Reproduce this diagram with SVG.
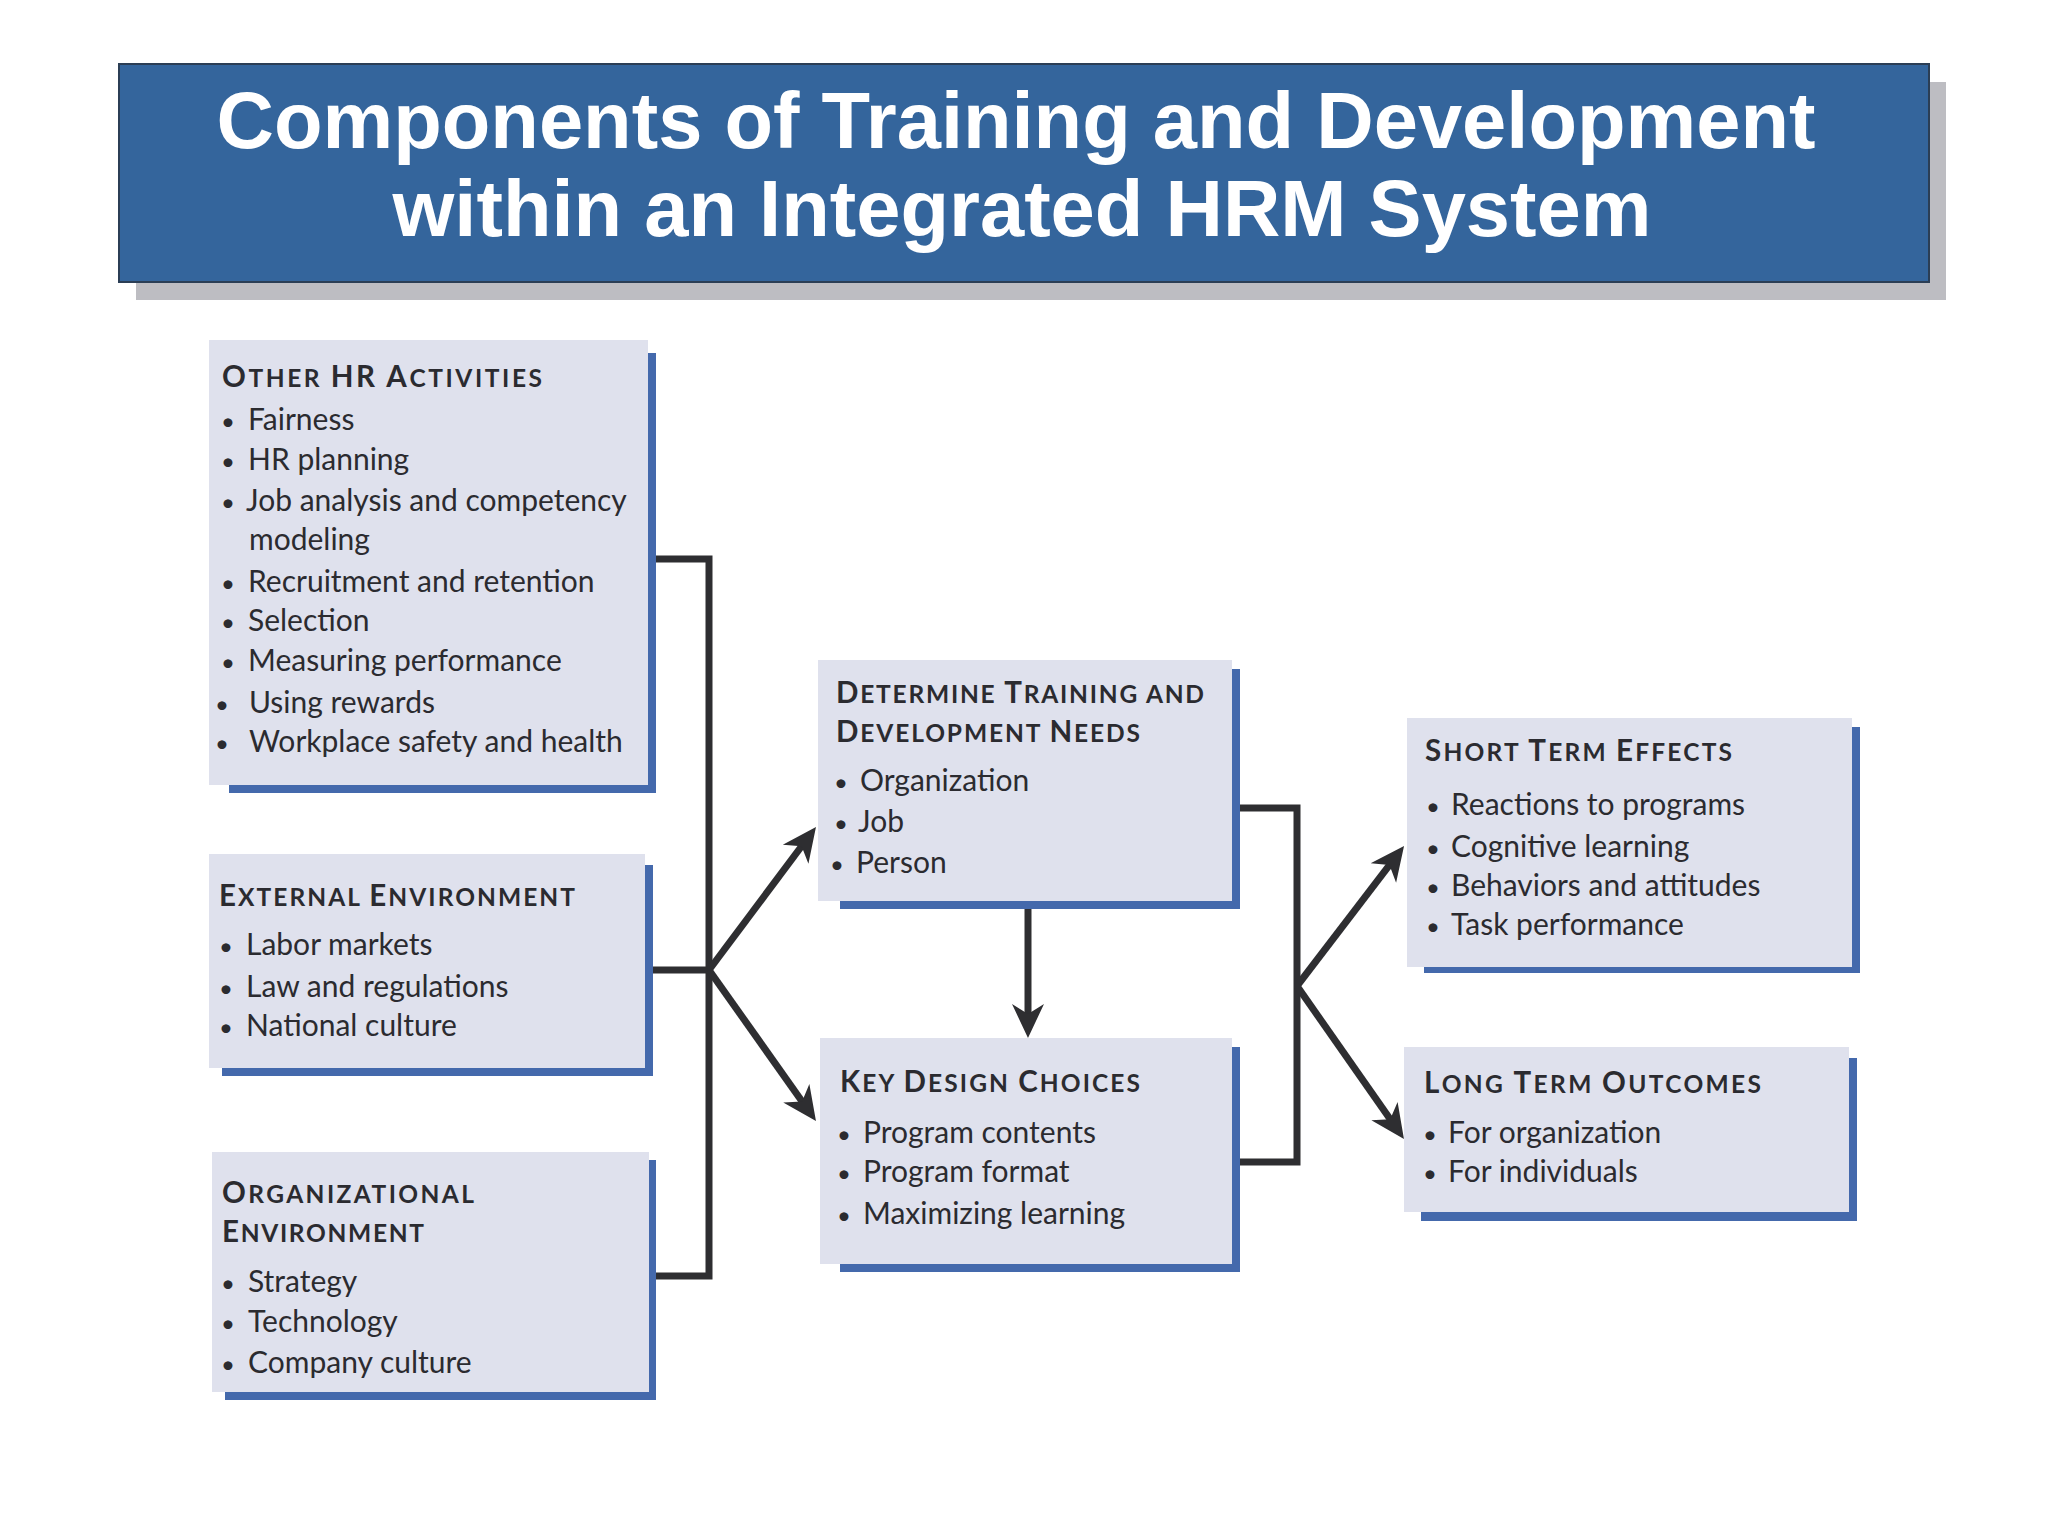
<svg xmlns="http://www.w3.org/2000/svg" width="2048" height="1536" viewBox="0 0 2048 1536">
<style>
.fill{fill:#dfe1ed}
.sh{fill:#4469ac}
.t{font-family:Lato,"Open Sans",sans-serif;font-size:30px;fill:#2b2b30}
.b{font-family:Lato,"Open Sans",sans-serif;font-size:24px;fill:#2b2b30;text-anchor:middle}
.h{font-family:Lato,"Open Sans",sans-serif;font-weight:bold;font-size:24.5px;fill:#2b2b30}
.k{font-size:29.5px}
.c{stroke:#2e2e31;stroke-width:7;fill:none}
.ttl{font-family:"Liberation Sans",Arial,sans-serif;font-weight:bold;font-size:79.5px;fill:#ffffff;text-anchor:middle}
</style>
<defs>
<marker id="ah" markerUnits="userSpaceOnUse" viewBox="-36 -18 38 36" markerWidth="38" markerHeight="36" refX="-20" refY="0" orient="auto">
<path d="M0,0 L-34,-16 L-24,0 L-34,16 Z" fill="#2e2e31"/>
</marker>
</defs>
<rect width="2048" height="1536" fill="#ffffff"/>
<g id="title">
<rect x="136" y="82" width="1810" height="218" fill="#bdbdc2"/>
<rect x="119" y="64" width="1810" height="218" fill="#34659c" stroke="#2b3e55" stroke-width="2"/>
<text class="ttl" x="1016" y="148">Components of Training and Development</text>
<text class="ttl" x="1022" y="236">within an Integrated HRM System</text>
</g>
<g id="connectors">
<path class="c" d="M656,559 H709 V1276 H656"/>
<path class="c" d="M653,970 H709"/>
<path class="c" d="M709,970 L804,843" marker-end="url(#ah)"/>
<path class="c" d="M709,970 L804.4,1104.7" marker-end="url(#ah)"/>
<path class="c" d="M1028,909 V1018" marker-end="url(#ah)"/>
<path class="c" d="M1240,808 H1297 V1162 H1240"/>
<path class="c" d="M1297,986 L1391.9,861.9" marker-end="url(#ah)"/>
<path class="c" d="M1297,986 L1392.5,1122.6" marker-end="url(#ah)"/>
</g>
<g id="other-hr">
<rect class="sh" x="229" y="353" width="427" height="440"/>
<rect class="fill" x="209" y="340" width="439" height="445"/>
<text class="h" x="222" y="387" textLength="320" lengthAdjust="spacing"><tspan class="k">O</tspan>THER <tspan class="k">HR A</tspan>CTIVITIES</text>
<text class="b" x="228" y="430">•</text><text class="t" x="248" y="430">Fairness</text>
<text class="b" x="228" y="470">•</text><text class="t" x="248" y="470">HR planning</text>
<text class="b" x="228" y="511">•</text><text class="t" x="246" y="511">Job analysis and competency</text>
<text class="t" x="249" y="550">modeling</text>
<text class="b" x="228" y="592">•</text><text class="t" x="248" y="592">Recruitment and retention</text>
<text class="b" x="228" y="631">•</text><text class="t" x="248" y="631">Selection</text>
<text class="b" x="228" y="671">•</text><text class="t" x="248" y="671">Measuring performance</text>
<text class="b" x="222" y="713">•</text><text class="t" x="249" y="713">Using rewards</text>
<text class="b" x="222" y="752">•</text><text class="t" x="249" y="752">Workplace safety and health</text>
</g>
<g id="external">
<rect class="sh" x="222" y="865" width="431" height="211"/>
<rect class="fill" x="209" y="854" width="436" height="214"/>
<text class="h" x="219" y="906" textLength="356" lengthAdjust="spacing"><tspan class="k">E</tspan>XTERNAL <tspan class="k">E</tspan>NVIRONMENT</text>
<text class="b" x="226" y="955">•</text><text class="t" x="246" y="955">Labor markets</text>
<text class="b" x="226" y="997">•</text><text class="t" x="246" y="997">Law and regulations</text>
<text class="b" x="226" y="1036">•</text><text class="t" x="246" y="1036">National culture</text>
</g>
<g id="organizational">
<rect class="sh" x="225" y="1160" width="431" height="240"/>
<rect class="fill" x="212" y="1152" width="437" height="240"/>
<text class="h" x="222" y="1203" textLength="252" lengthAdjust="spacing"><tspan class="k">O</tspan>RGANIZATIONAL</text>
<text class="h" x="222" y="1242" textLength="202" lengthAdjust="spacing"><tspan class="k">E</tspan>NVIRONMENT</text>
<text class="b" x="228" y="1292">•</text><text class="t" x="248" y="1292">Strategy</text>
<text class="b" x="228" y="1332">•</text><text class="t" x="248" y="1332">Technology</text>
<text class="b" x="228" y="1373">•</text><text class="t" x="248" y="1373">Company culture</text>
</g>
<g id="determine-needs">
<rect class="sh" x="840" y="669" width="400" height="240"/>
<rect class="fill" x="818" y="660" width="414" height="241"/>
<text class="h" x="836" y="703" textLength="368" lengthAdjust="spacing"><tspan class="k">D</tspan>ETERMINE <tspan class="k">T</tspan>RAINING AND</text>
<text class="h" x="836" y="742" textLength="304" lengthAdjust="spacing"><tspan class="k">D</tspan>EVELOPMENT <tspan class="k">N</tspan>EEDS</text>
<text class="b" x="841" y="791">•</text><text class="t" x="860" y="791">Organization</text>
<text class="b" x="841" y="832">•</text><text class="t" x="858" y="832">Job</text>
<text class="b" x="837" y="873">•</text><text class="t" x="856" y="873">Person</text>
</g>
<g id="key-design">
<rect class="sh" x="840" y="1047" width="400" height="225"/>
<rect class="fill" x="820" y="1038" width="412" height="226"/>
<text class="h" x="840" y="1092" textLength="300" lengthAdjust="spacing"><tspan class="k">K</tspan>EY <tspan class="k">D</tspan>ESIGN <tspan class="k">C</tspan>HOICES</text>
<text class="b" x="844" y="1143">•</text><text class="t" x="863" y="1143">Program contents</text>
<text class="b" x="844" y="1182">•</text><text class="t" x="863" y="1182">Program format</text>
<text class="b" x="844" y="1224">•</text><text class="t" x="863" y="1224">Maximizing learning</text>
</g>
<g id="short-term">
<rect class="sh" x="1424" y="727" width="436" height="246"/>
<rect class="fill" x="1407" y="718" width="445" height="249"/>
<text class="h" x="1425" y="761" textLength="307" lengthAdjust="spacing"><tspan class="k">S</tspan>HORT <tspan class="k">T</tspan>ERM <tspan class="k">E</tspan>FFECTS</text>
<text class="b" x="1433" y="815">•</text><text class="t" x="1451" y="815">Reactions to programs</text>
<text class="b" x="1433" y="857">•</text><text class="t" x="1451" y="857">Cognitive learning</text>
<text class="b" x="1433" y="896">•</text><text class="t" x="1451" y="896">Behaviors and attitudes</text>
<text class="b" x="1433" y="935">•</text><text class="t" x="1451" y="935">Task performance</text>
</g>
<g id="long-term">
<rect class="sh" x="1421" y="1058" width="436" height="163"/>
<rect class="fill" x="1404" y="1047" width="445" height="165"/>
<text class="h" x="1424" y="1093" textLength="337" lengthAdjust="spacing"><tspan class="k">L</tspan>ONG <tspan class="k">T</tspan>ERM <tspan class="k">O</tspan>UTCOMES</text>
<text class="b" x="1430" y="1143">•</text><text class="t" x="1448" y="1143">For organization</text>
<text class="b" x="1430" y="1182">•</text><text class="t" x="1448" y="1182">For individuals</text>
</g>
</svg>
